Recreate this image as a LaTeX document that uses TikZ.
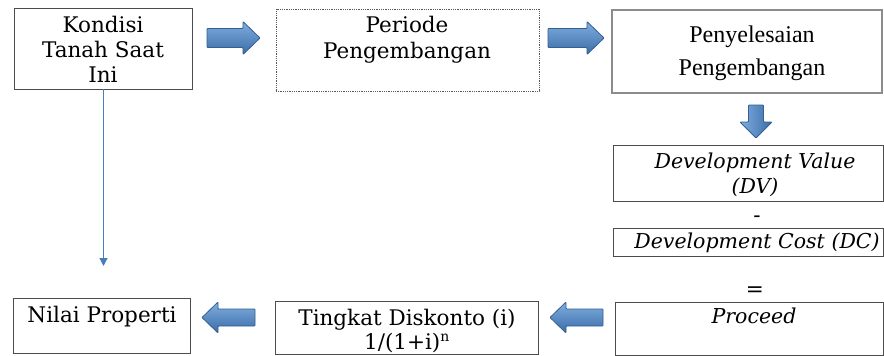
\documentclass[tikz,border=0pt]{standalone}
\usepackage{fontspec}
\setmainfont{DejaVu Serif}
\newfontfamily\timesf{Liberation Serif}
\usetikzlibrary{arrows.meta}
\definecolor{arrtop}{HTML}{7FAEDF}
\definecolor{arrbot}{HTML}{3A6CA8}
\definecolor{arredge}{HTML}{34608F}
\definecolor{connc}{HTML}{4A7DB5}
\begin{document}
\begin{tikzpicture}[x=1pt,y=-1pt,
  box/.style={draw=black!70, line width=0.8pt, inner sep=0pt},
  dotbox/.style={draw=black!65, line width=0.8pt, densely dotted, inner sep=0pt},
  graybox/.style={draw=black!45, line width=2pt, inner sep=0pt},
  txt/.style={inner sep=0pt, anchor=base, font=\fontsize{21.5}{26}\selectfont},
  ttxt/.style={inner sep=0pt, anchor=base, font=\timesf\fontsize{24}{30}\selectfont},
  itxt/.style={inner sep=0pt, anchor=base, font=\itshape\fontsize{20.5}{24}\selectfont},
  barrow/.style={draw=arredge, line width=0.8pt, top color=arrtop, bottom color=arrbot, rounded corners=0.8pt},
  conn/.style={draw=connc, line width=1.3pt, -{Triangle[length=8pt,width=8pt]}}
]
\useasboundingbox (0,0) rectangle (884,356);
\fill[white] (0,0) rectangle (884,356);

% boxes
\node[box, minimum width=178, minimum height=81] (kondisi) at (103,48.5) {};
\node[dotbox, minimum width=263, minimum height=82] (periode) at (407.5,50) {};
\node[graybox, minimum width=270, minimum height=83] (penyel) at (747,51.5) {};
\node[box, minimum width=270, minimum height=56] (dv) at (748,173) {};
\node[box, minimum width=270, minimum height=28] (dc) at (748,242) {};
\node[box, minimum width=268, minimum height=53] (proceed) at (749,328.5) {};
\node[box, minimum width=263, minimum height=53] (tingkat) at (406.5,327.5) {};
\node[box, minimum width=177, minimum height=55] (nilai) at (101.5,325.5) {};

% texts
\node[txt] (k1) at (103,32) {Kondisi};
\node[txt] (k2) at (103,57) {Tanah Saat};
\node[txt] (k3) at (103,82) {Ini};
\node[txt] (p1) at (407,32) {Periode};
\node[txt] (p2) at (407,58) {Pengembangan};
\node[ttxt] (s1) at (752,42) {Penyelesaian};
\node[ttxt] (s2) at (752,75) {Pengembangan};
\node[itxt] (d1) at (755,168) {Development Value};
\node[itxt] (d2) at (755,193) {(DV)};
\node[txt] (minus) at (757,222) {-};
\node[itxt] (c1) at (757,248) {Development Cost (DC)};
\node[txt] (eq) at (755,296) {=};
\node[itxt] (pr) at (754,323) {Proceed};
\node[txt] (t1) at (407,325) {Tingkat Diskonto (i)};
\node[txt] (t2) at (407,349) {1/(1+i)\textsuperscript{\fontsize{14}{14}\selectfont n}};
\node[txt] (n1) at (102,322) {Nilai Properti};

% block arrows
\path[barrow] (207,28.5) -- (243,28.5) -- (243,21.5) -- (260,38) -- (243,54.5) -- (243,47.5) -- (207,47.5) -- cycle;
\path[barrow] (548,28.5) -- (587,28.5) -- (587,21.5) -- (604,38) -- (587,54.5) -- (587,47.5) -- (548,47.5) -- cycle;
\path[barrow, left color=arrtop, right color=arrbot] (748.5,105) -- (763.5,105) -- (763.5,122) -- (772,122) -- (756,138) -- (740,122) -- (748.5,122) -- cycle;
\path[barrow] (603,309) -- (566,309) -- (566,302) -- (550,317.5) -- (566,333) -- (566,326) -- (603,326) -- cycle;
\path[barrow] (255,309) -- (218,309) -- (218,302) -- (202,317.5) -- (218,333) -- (218,326) -- (255,326) -- cycle;

% connector
\coordinate (vend) at (103.5,266);
\draw[conn] (kondisi.south -| vend) -- (vend);
\end{tikzpicture}
\end{document}
